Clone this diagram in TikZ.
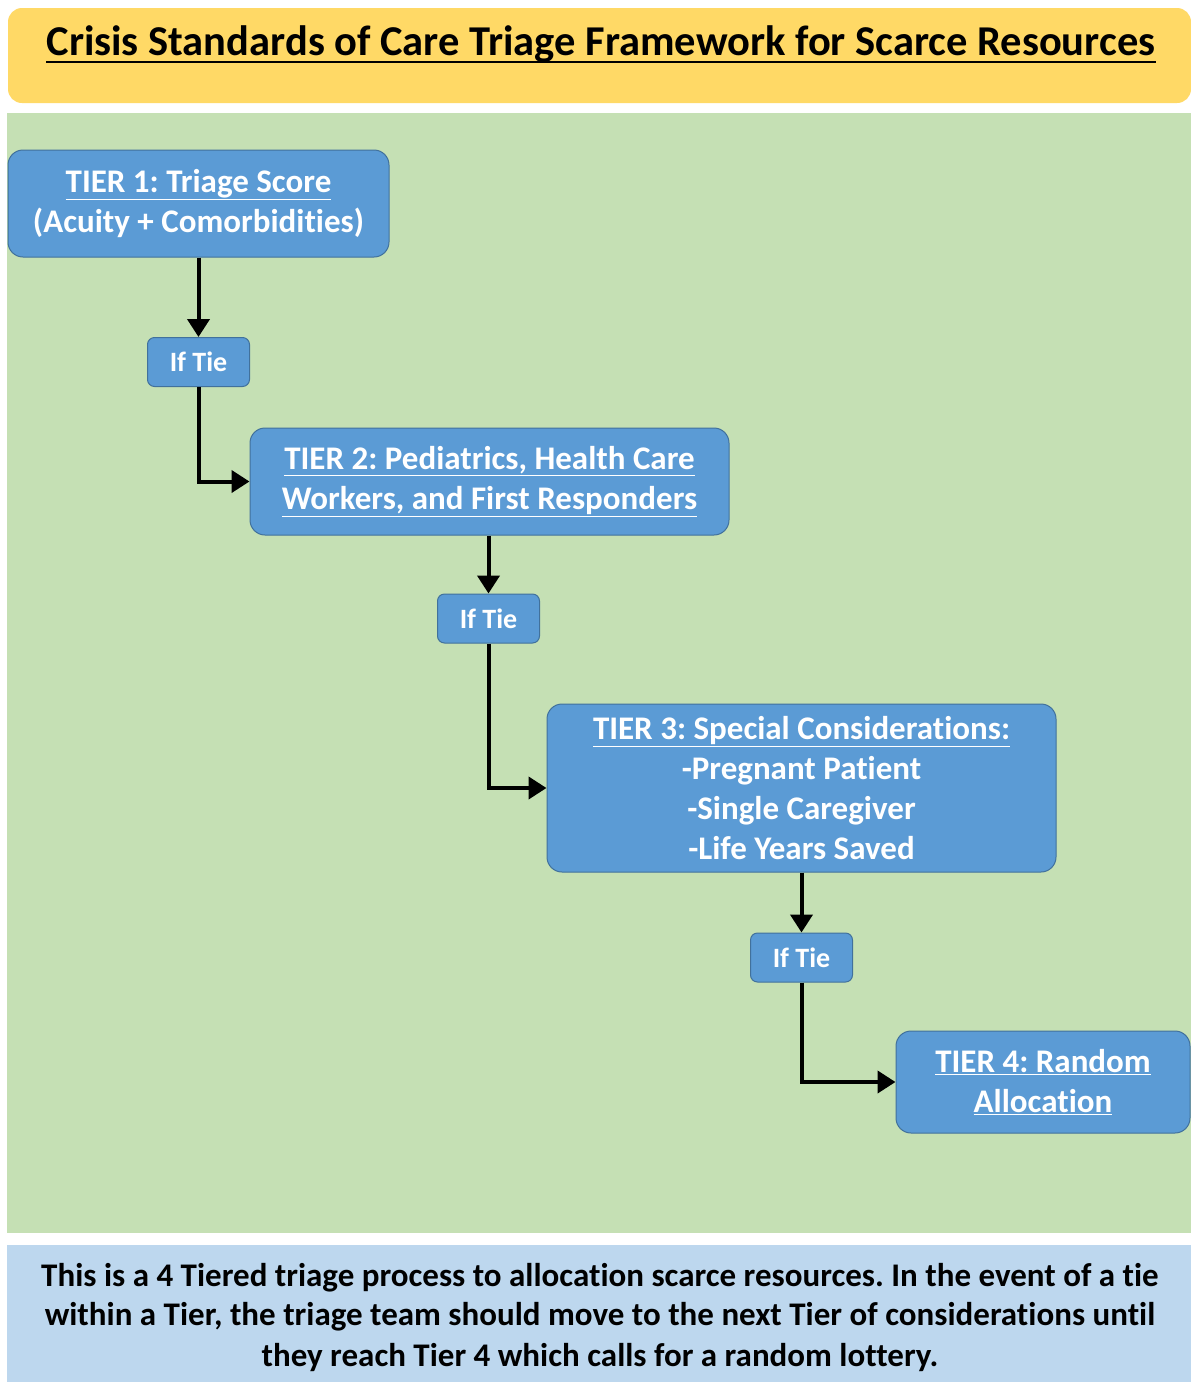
\documentclass[tikz,border=0pt]{standalone}
\usepackage{fontspec}
\setmainfont{Carlito}[Ligatures=NoCommon]
\usetikzlibrary{arrows.meta}
\definecolor{hdr}{HTML}{FFD966}
\definecolor{bgreen}{HTML}{C5E0B4}
\definecolor{nblue}{HTML}{5B9BD5}
\definecolor{nborder}{HTML}{41719C}
\definecolor{fblue}{HTML}{BDD7EE}
\newcommand{\ulx}[1]{\underline{#1}}
\frenchspacing
\begin{document}
\begin{tikzpicture}[x=1pt,y=-1pt,
  tierbox/.style={draw=nborder,line width=1pt,fill=nblue,rounded corners=15pt,text=white,align=center,
    font=\bfseries\fontsize{33}{40}\selectfont,inner sep=0pt},
  tiebox/.style={draw=nborder,line width=1pt,fill=nblue,rounded corners=7pt,text=white,
    font=\bfseries\fontsize{28}{30}\selectfont,inner sep=0pt,minimum width=102pt,minimum height=49pt},
  arr/.style={line width=4pt,-{Triangle[length=18pt,width=22pt]}}]
\useasboundingbox (0,0) rectangle (1191,1382);
\fill[white] (0,0) rectangle (1191,1382);
% header
\fill[hdr,rounded corners=14pt] (8,8) rectangle (1191,103);
\node[font=\bfseries\fontsize{42.5}{44}\selectfont,inner sep=0pt,anchor=base] (title) at (601,55) {Crisis Standards of Care Triage Framework for Scarce Resources};
\draw[line width=2.6pt] ([yshift=-7pt]title.base west) -- ([yshift=-7pt]title.base east);
% green area
\fill[bgreen] (7,113) rectangle (1191,1233);
% bottom box
\fill[fblue] (7,1245) rectangle (1191,1382);
\node[align=center,font=\bfseries\fontsize{33}{40}\selectfont] (note) at (600,1317) {This is a 4 Tiered triage process to allocation scarce resources. In the event of a tie\\within a Tier, the triage team should move to the next Tier of considerations until\\they reach Tier 4 which calls for a random lottery.};
% nodes
\node[tierbox,minimum width=381pt,minimum height=107pt] (t1) at (198.5,203.5) {\ulx{TIER 1: Triage Score}\\(Acuity + Comorbidities)};
\node[tiebox] (i1) at (198.5,362) {If Tie};
\node[tierbox,minimum width=479pt,minimum height=107pt] (t2) at (489.5,481.5) {\ulx{TIER 2: Pediatrics, Health Care}\\\ulx{Workers, and First Responders}};
\node[tiebox] (i2) at (488.5,618.5) {If Tie};
\node[tierbox,minimum width=509pt,minimum height=168pt] (t3) at (801.5,788) {\ulx{TIER 3: Special Considerations:}\\-Pregnant Patient\\-Single Caregiver\\-Life Years Saved};
\node[tiebox] (i3) at (801.5,957.5) {If Tie};
\node[tierbox,minimum width=294pt,minimum height=102pt] (t4) at (1043,1082) {\ulx{TIER 4: Random}\\\ulx{Allocation}};
% connectors
\draw[arr] (t1.south) -- (i1.north);
\draw[arr] (i1.south) |- (t2.west);
\draw[arr] (i2.north |- t2.south) -- (i2.north);
\draw[arr] (i2.south) |- (t3.west);
\draw[arr] (t3.south) -- (i3.north);
\draw[arr] (i3.south) |- (t4.west);
\end{tikzpicture}
\end{document}
